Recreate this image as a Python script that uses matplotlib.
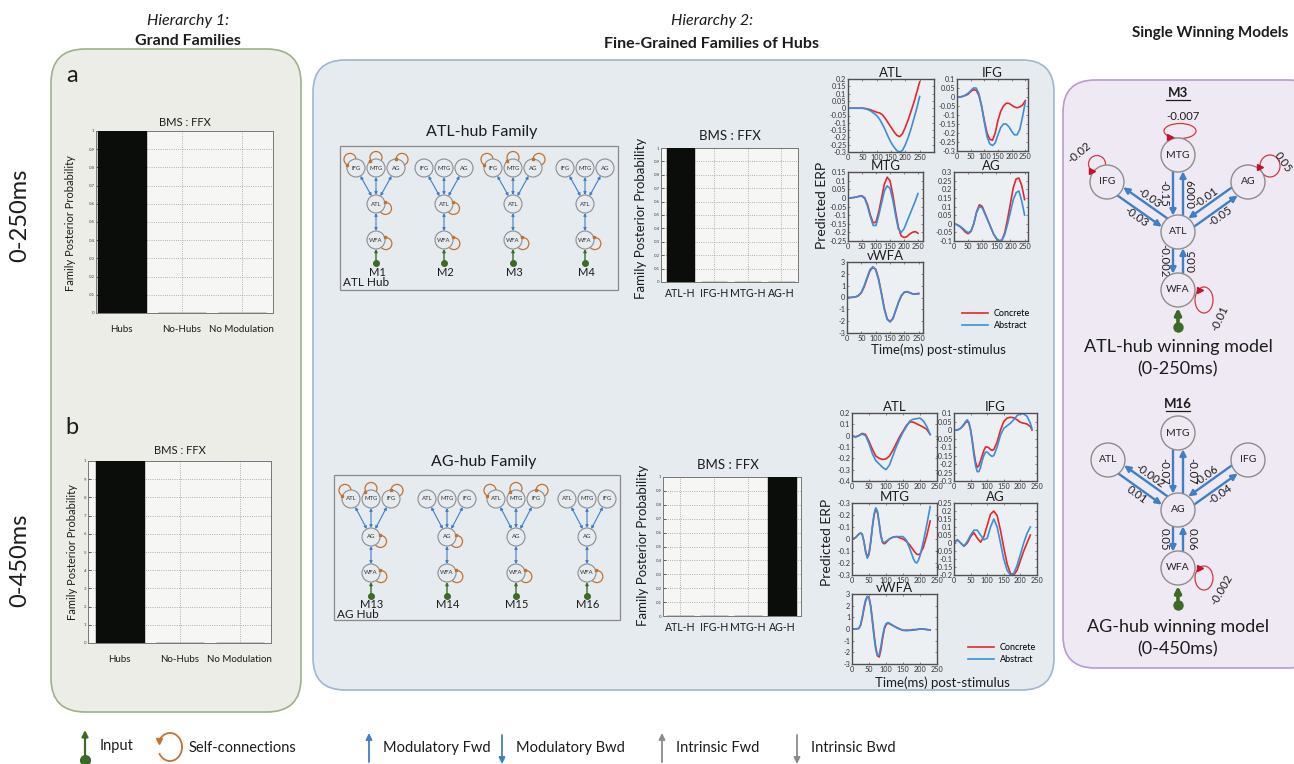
import numpy as np
import matplotlib.pyplot as plt
from matplotlib.patches import FancyBboxPatch, Circle, Ellipse, Arc, Rectangle

plt.rcParams['font.family'] = ['Lato', 'DejaVu Sans']

# ---------------- data ----------------
grand_families = ['Hubs', 'No-Hubs', 'No Modulation']
grand_post_250 = [1.0, 0.0, 0.0]
grand_post_450 = [1.0, 0.0, 0.0]

hub_families = ['ATL-H', 'IFG-H', 'MTG-H', 'AG-H']
hub_post_250 = [1.0, 0.0, 0.0, 0.0]
hub_post_450 = [0.0, 0.0, 0.0, 1.0]

atl_models = ['M1', 'M2', 'M3', 'M4']
atl_loops = [['IFG', 'MTG', 'AG', 'ATL', 'WFA'], ['ATL', 'WFA'], ['IFG', 'MTG', 'AG', 'WFA'], ['WFA']]
ag_models = ['M13', 'M14', 'M15', 'M16']
ag_loops = [['ATL', 'MTG', 'IFG', 'AG', 'WFA'], ['AG', 'WFA'], ['ATL', 'MTG', 'IFG', 'WFA'], ['WFA']]

# winning models: hub->region (out), region->hub (in), self connections
m3_out = {'IFG': -0.03, 'MTG': 0.009, 'AG': -0.05, 'WFA': -0.002}
m3_in = {'IFG': -0.03, 'MTG': -0.15, 'AG': -0.01, 'WFA': 0.05}
m3_self = {'MTG': -0.007, 'IFG': -0.02, 'AG': 0.05, 'WFA': -0.01}
m16_out = {'ATL': -0.002, 'MTG': -0.07, 'IFG': -0.04, 'WFA': 0.05}
m16_in = {'ATL': 0.01, 'MTG': -0.07, 'IFG': -0.06, 'WFA': 0.06}
m16_self = {'WFA': -0.002}

# predicted ERPs, 0-250 ms window
t_250 = [0, 10, 20, 30, 40, 50, 60, 70, 80, 90, 100, 110, 120, 130, 140, 150, 160, 170, 180, 190, 200, 210, 220, 230, 240, 250]
atl_250_con = [0, 0, 0, 0, 0, 0, -0.002, -0.006, -0.012, -0.02, -0.028, -0.032, -0.045, -0.07, -0.1, -0.13, -0.16, -0.185, -0.195, -0.175, -0.13, -0.08, -0.02, 0.04, 0.11, 0.18]
atl_250_abs = [0, 0, 0, 0, 0, 0, -0.003, -0.01, -0.02, -0.035, -0.05, -0.075, -0.11, -0.15, -0.195, -0.235, -0.265, -0.29, -0.3, -0.29, -0.25, -0.2, -0.14, -0.07, 0.0, 0.08]
ifg_250_con = [0, 0, 0.003, 0.008, 0.015, 0.03, 0.04, 0.038, 0.01, -0.05, -0.13, -0.2, -0.235, -0.24, -0.2, -0.13, -0.08, -0.05, -0.035, -0.035, -0.045, -0.055, -0.06, -0.055, -0.045, -0.02]
ifg_250_abs = [0, 0, 0.003, 0.01, 0.02, 0.035, 0.05, 0.05, 0.02, -0.05, -0.14, -0.22, -0.26, -0.27, -0.255, -0.21, -0.17, -0.15, -0.15, -0.165, -0.19, -0.21, -0.21, -0.18, -0.11, -0.03]
mtg_250_con = [0, 0, 0.002, 0.005, 0.01, 0.012, 0.0, -0.04, -0.1, -0.145, -0.14, -0.08, 0.0, 0.08, 0.12, 0.1, 0.02, -0.08, -0.17, -0.22, -0.23, -0.225, -0.21, -0.2, -0.195, -0.205]
mtg_250_abs = [0, 0, 0.002, 0.005, 0.008, 0.01, -0.005, -0.05, -0.11, -0.16, -0.16, -0.1, -0.03, 0.04, 0.07, 0.055, -0.01, -0.1, -0.18, -0.2, -0.18, -0.14, -0.1, -0.06, -0.02, 0.025]
ag_250_con = [0, -0.005, -0.015, -0.03, -0.048, -0.058, -0.045, 0.0, 0.07, 0.11, 0.1, 0.06, 0.02, -0.02, -0.06, -0.085, -0.1, -0.095, -0.05, 0.03, 0.12, 0.21, 0.26, 0.265, 0.22, 0.14]
ag_250_abs = [0, -0.005, -0.013, -0.025, -0.04, -0.052, -0.042, 0.0, 0.065, 0.1, 0.092, 0.055, 0.018, -0.02, -0.058, -0.085, -0.098, -0.095, -0.06, 0.0, 0.07, 0.14, 0.18, 0.19, 0.13, 0.05]
wfa_250_con = [0, 0, 0.02, 0.05, 0.15, 0.4, 0.9, 1.6, 2.25, 2.55, 2.4, 1.6, 0.4, -0.9, -1.8, -2.05, -1.8, -1.1, -0.4, 0.15, 0.45, 0.5, 0.4, 0.3, 0.3, 0.35]
wfa_250_abs = [0, 0, 0.02, 0.06, 0.18, 0.45, 1.0, 1.7, 2.35, 2.6, 2.35, 1.5, 0.3, -1.0, -1.85, -2.05, -1.75, -1.05, -0.35, 0.2, 0.45, 0.48, 0.38, 0.3, 0.28, 0.3]

# predicted ERPs, 0-450 ms window (plotted to 250 ms)
t_450 = [0, 10, 20, 30, 40, 50, 60, 70, 80, 90, 100, 110, 120, 130, 140, 150, 160, 170, 180, 190, 200, 210, 220, 230]
atl_450_con = [0, -0.01, 0.0, 0.02, 0.01, -0.05, -0.12, -0.18, -0.2, -0.21, -0.205, -0.18, -0.13, -0.07, -0.01, 0.04, 0.09, 0.12, 0.12, 0.105, 0.09, 0.075, 0.055, 0.01]
atl_450_abs = [0, -0.015, 0.0, 0.015, 0.0, -0.07, -0.16, -0.22, -0.25, -0.28, -0.3, -0.26, -0.18, -0.1, -0.03, 0.03, 0.08, 0.13, 0.145, 0.15, 0.155, 0.13, 0.08, 0.01]
t_ifg_450 = [0, 10, 20, 30, 35, 40, 45, 50, 55, 60, 65, 70, 75, 80, 85, 90, 95, 100, 105, 110, 115, 120, 130, 140, 150, 160, 170, 180, 190, 200, 210, 220, 230, 235]
ifg_450_con = [0, 0.0, 0.01, 0.03, 0.045, 0.05, 0.04, 0.0, -0.06, -0.13, -0.19, -0.22, -0.21, -0.18, -0.15, -0.12, -0.1, -0.1, -0.105, -0.115, -0.12, -0.115, -0.07, 0.0, 0.05, 0.07, 0.075, 0.072, 0.06, 0.045, 0.04, 0.035, 0.02, 0.0]
ifg_450_abs = [0, 0.0, 0.01, 0.035, 0.05, 0.06, 0.045, 0.0, -0.07, -0.15, -0.21, -0.245, -0.245, -0.22, -0.18, -0.15, -0.13, -0.13, -0.14, -0.15, -0.155, -0.15, -0.1, -0.03, 0.01, 0.025, 0.04, 0.06, 0.085, 0.095, 0.095, 0.08, 0.04, 0.005]
t_mtg_450 = [0, 10, 20, 25, 30, 35, 40, 45, 50, 55, 60, 65, 70, 75, 80, 85, 90, 95, 100, 110, 120, 130, 140, 150, 160, 170, 180, 185, 190, 195, 200, 210, 220, 230]
mtg_450_con = [0, 0.01, 0.04, 0.05, 0.04, -0.02, -0.1, -0.15, -0.12, -0.02, 0.1, 0.2, 0.25, 0.22, 0.13, 0.03, -0.03, -0.04, -0.03, 0.0, 0.015, 0.02, 0.01, 0.0, -0.02, -0.05, -0.09, -0.11, -0.125, -0.13, -0.125, -0.07, 0.03, 0.15]
mtg_450_abs = [0, 0.01, 0.04, 0.05, 0.04, -0.02, -0.11, -0.16, -0.13, -0.03, 0.1, 0.21, 0.26, 0.23, 0.13, 0.02, -0.02, -0.03, -0.02, 0.0, 0.015, 0.02, 0.02, 0.02, -0.01, -0.08, -0.16, -0.19, -0.2, -0.18, -0.14, -0.02, 0.12, 0.27]
ag_450_con = [0, 0.02, 0.0, -0.02, 0.0, 0.04, 0.065, 0.03, 0.005, 0.04, 0.11, 0.18, 0.2, 0.17, 0.08, -0.03, -0.13, -0.19, -0.2, -0.17, -0.11, -0.05, 0.0, 0.05]
ag_450_abs = [0, 0.02, 0.0, -0.02, 0.01, 0.05, 0.08, 0.08, 0.05, 0.02, 0.03, 0.1, 0.15, 0.1, 0.0, -0.1, -0.17, -0.2, -0.19, -0.14, -0.07, 0.0, 0.06, 0.1]
t_wfa_450 = [0, 10, 20, 25, 30, 35, 40, 45, 50, 55, 60, 65, 70, 75, 80, 85, 90, 95, 100, 105, 110, 120, 130, 140, 150, 160, 170, 180, 190, 200, 210, 220, 230]
wfa_450_con = [0, 0.0, 0.05, 0.3, 0.9, 1.7, 2.4, 2.75, 2.7, 2.0, 0.8, -0.5, -1.6, -2.3, -2.4, -1.8, -0.8, 0.0, 0.35, 0.5, 0.45, 0.3, 0.15, 0.0, -0.1, -0.1, -0.1, -0.05, -0.05, 0.0, 0.0, -0.05, -0.08]
wfa_450_abs = [0, 0.0, 0.05, 0.35, 1.0, 1.85, 2.5, 2.8, 2.65, 1.9, 0.6, -0.7, -1.8, -2.3, -2.2, -1.5, -0.6, 0.1, 0.45, 0.55, 0.5, 0.3, 0.12, 0.0, -0.12, -0.15, -0.12, -0.1, -0.05, 0.02, 0.0, -0.05, -0.08]

# ---------------- styling ----------------
W, H = 1294, 764
TXT = '#1c1c1c'
RED = '#e8262c'
ERP_BLUE = '#3a8fd8'
ARROW_BLUE = '#3f7fc6'
ORANGE = '#c4722f'
GREEN = '#3d6a26'
LOOP_RED = '#d43a3f'
GREEN_BG, BLUE_BG, PURPLE_BG = '#ebede6', '#e6ebf0', '#efe9f3'

fig = plt.figure(figsize=(W / 100, H / 100), dpi=100)
canvas = fig.add_axes([0, 0, 1, 1])
canvas.set_xlim(0, W)
canvas.set_ylim(H, 0)
canvas.axis('off')


def add_ax(x0, y0, x1, y1):
    return fig.add_axes([x0 / W, 1 - y1 / H, (x1 - x0) / W, (y1 - y0) / H])


def panel(x0, y0, x1, y1, fc, ec, r):
    canvas.add_patch(FancyBboxPatch((x0, y0), x1 - x0, y1 - y0,
                                    boxstyle=f'round,pad=0,rounding_size={r}',
                                    fc=fc, ec=ec, lw=1.2, zorder=0))


def arrow(p, q, color, lw, style, ms, z=4):
    canvas.annotate('', xy=tuple(q), xytext=tuple(p),
                    arrowprops=dict(arrowstyle=style, color=color, lw=lw, mutation_scale=ms,
                                    shrinkA=0, shrinkB=0), zorder=z)


def ends(a, b, ra, rb, off=0.0):
    a = np.asarray(a, float)
    b = np.asarray(b, float)
    u = (b - a) / np.linalg.norm(b - a)
    n = np.array([-u[1], u[0]])
    sa = np.sqrt(max(ra ** 2 - off ** 2, 0))
    sb = np.sqrt(max(rb ** 2 - off ** 2, 0))
    return a + u * sa + n * off, b - u * sb + n * off, u, n


# ---------------- panels and headings ----------------
panel(51, 49, 301, 712, GREEN_BG, '#9fb08c', 34)
panel(313, 60, 1054, 690, BLUE_BG, '#9db7d1', 32)
panel(1063, 80, 1320, 668, PURPLE_BG, '#b99bd0', 32)

canvas.text(188, 21, 'Hierarchy 1:', ha='center', va='center', fontsize=11.5, style='italic', color=TXT)
canvas.text(188, 41, 'Grand Families', ha='center', va='center', fontsize=11.5, weight='bold', color=TXT)
canvas.text(712, 21, 'Hierarchy 2:', ha='center', va='center', fontsize=11.5, style='italic', color=TXT)
canvas.text(712, 44, 'Fine-Grained Families of Hubs', ha='center', va='center', fontsize=11.5, weight='bold', color=TXT)
canvas.text(1210, 33, 'Single Winning Models', ha='center', va='center', fontsize=11, weight='bold', color=TXT)

canvas.text(20, 215, '0-250ms', ha='center', va='center', rotation=90, fontsize=17, color=TXT)
canvas.text(20, 560, '0-450ms', ha='center', va='center', rotation=90, fontsize=17, color=TXT)
canvas.text(72, 76, 'a', ha='center', va='center', fontsize=17, color=TXT)
canvas.text(72, 428, 'b', ha='center', va='center', fontsize=17, color=TXT)


# ---------------- BMS bar charts ----------------
def bms_chart(box, cats, vals, xlim, ytick_labels, cat_size, cat_pad, title_xy, title_size,
              ylabel_xy, ylabel_size):
    ax = add_ax(*box)
    x = np.arange(1, len(cats) + 1)
    ax.bar(x, vals, width=0.8, color='#0b0d0b', edgecolor='#0b0d0b', zorder=3)
    ax.set_xlim(*xlim)
    ax.set_ylim(0, 1)
    ax.set_xticks(x)
    ax.set_xticklabels(cats, fontsize=cat_size, color=TXT)
    ax.set_yticks(np.linspace(0, 1, 11))
    ax.set_yticklabels(ytick_labels, fontsize=3.2, color='#444')
    ax.grid(True, ls=':', color='#9a9a9a', lw=0.6)
    ax.set_facecolor('#f6f6f4')
    ax.tick_params(axis='x', length=0, pad=cat_pad)
    ax.tick_params(axis='y', length=2, width=0.4, direction='in', pad=1)
    for s in ax.spines.values():
        s.set_color('#777')
        s.set_linewidth(0.7)
    canvas.text(*title_xy, 'BMS : FFX', ha='center', va='center', fontsize=title_size, color=TXT)
    canvas.text(*ylabel_xy, 'Family Posterior Probability', ha='center', va='center',
                rotation=90, fontsize=ylabel_size, color=TXT)
    return ax


decimal_ticks = ['0'] + [f'0.{k}' for k in range(1, 10)] + ['1']
digit_ticks = ['0'] + [str(k) for k in range(1, 10)] + ['1']

bms_chart((96, 131, 273, 313), grand_families, grand_post_250, (0.57, 3.52), decimal_ticks,
          7, 9, (185, 122), 8, (70, 223), 8)
bms_chart((88, 461, 271, 643), grand_families, grand_post_450, (0.47, 3.52), digit_ticks,
          7, 9, (180, 450), 8, (72, 552), 8)
bms_chart((661, 148, 798, 282), hub_families, hub_post_250, (0.42, 4.5), decimal_ticks,
          7.6, 4, (730, 136), 9.5, (641, 218), 9.5)
bms_chart((663, 477, 801, 616), hub_families, hub_post_450, (0.5, 4.56), decimal_ticks,
          7.6, 4, (728, 465), 9.5, (643, 545), 9.5)


# ---------------- family model sketches ----------------
def small_model(cx, ys, top_names, hub, loops, label):
    y_top, y_hub, y_wfa, y_dot, y_lab = ys
    r = 9
    pos = {top_names[0]: (cx - 20, y_top), top_names[1]: (cx, y_top),
           top_names[2]: (cx + 20, y_top), hub: (cx, y_hub), 'WFA': (cx, y_wfa)}
    for a, b in [(nm, hub) for nm in top_names] + [(hub, 'WFA')]:
        p, q, _, _ = ends(pos[a], pos[b], r, r)
        arrow(p, q, ARROW_BLUE, 0.8, '<|-|>', 4)
    loop_dir = {top_names[0]: 125, top_names[1]: 90, top_names[2]: 55, hub: -25, 'WFA': -20}
    for nm in loops:
        ang = np.radians(loop_dir[nm])
        d = np.array([np.cos(ang), -np.sin(ang)])
        c = np.array(pos[nm]) + d * (r + 1.5)
        canvas.add_patch(Circle(c, 6, fc='none', ec=ORANGE, lw=0.9, zorder=3))
        tip_ang = ang + np.radians(38)
        tip = np.array(pos[nm]) + np.array([np.cos(tip_ang), -np.sin(tip_ang)]) * (r + 0.5)
        canvas.plot(*tip, marker='s', ms=2, color=ORANGE, zorder=6)
    for nm, (x, y) in pos.items():
        canvas.add_patch(Circle((x, y), r, fc=BLUE_BG, ec='#8d8d8d', lw=0.8, zorder=5))
        canvas.text(x, y, nm, ha='center', va='center', fontsize=4.3, color='#333', zorder=7)
    arrow((cx, y_dot), (cx, y_wfa + r), GREEN, 1.0, '-|>', 4)
    canvas.plot(cx, y_dot, 'o', ms=4, color=GREEN, zorder=6)
    canvas.text(cx + 1, y_lab, label, ha='center', va='center', fontsize=8, color=TXT)


canvas.text(482, 132, 'ATL-hub Family', ha='center', va='center', fontsize=11.5, color=TXT)
canvas.add_patch(Rectangle((340, 146), 278, 144, fc='none', ec='#8a8a8a', lw=0.9, zorder=2))
canvas.text(343, 283, 'ATL Hub', ha='left', va='center', fontsize=8.5, color=TXT)
for cx, lab, lp in zip([376, 444, 513, 585], atl_models, atl_loops):
    small_model(cx, (168, 204, 240, 263, 273), ['IFG', 'MTG', 'AG'], 'ATL', lp, lab)

canvas.text(484, 462, 'AG-hub Family', ha='center', va='center', fontsize=11.5, color=TXT)
canvas.add_patch(Rectangle((334, 475), 286, 145, fc='none', ec='#8a8a8a', lw=0.9, zorder=2))
canvas.text(337, 614, 'AG Hub', ha='left', va='center', fontsize=8.5, color=TXT)
for cx, lab, lp in zip([371, 447, 516, 587], ag_models, ag_loops):
    small_model(cx, (499, 537, 573, 596, 605), ['ATL', 'MTG', 'IFG'], 'AG', lp, lab)


# ---------------- predicted ERP panels ----------------
def fmt(v):
    s = f'{v:g}'
    return '0' if s == '-0' else s


def erp(box, title, t, con, abs_, ylim, ystep, xlim, ylabels=None):
    ax = add_ax(*box)
    l1, = ax.plot(t, con, color=RED, lw=1.2)
    l2, = ax.plot(t, abs_, color=ERP_BLUE, lw=1.2)
    ax.set_xlim(*xlim)
    ax.set_ylim(*ylim)
    ax.set_xticks([0, 50, 100, 150, 200, 250])
    yt = np.round(np.arange(ylim[0], ylim[1] + ystep / 2, ystep), 3)
    ax.set_yticks(yt)
    ax.set_yticklabels(ylabels if ylabels else [fmt(v) for v in yt])
    ax.tick_params(direction='in', length=1.5, width=0.4, labelsize=5.2, pad=1.2,
                   top=True, right=True, colors='#333')
    ax.set_facecolor('#edf0f3')
    for s in ax.spines.values():
        s.set_color('#505050')
        s.set_linewidth(1.0)
    ax.set_title(title, fontsize=9.5, pad=1.5, color=TXT)
    return ax, l1, l2


erp((848, 79, 934, 152), 'ATL', t_250, atl_250_con, atl_250_abs, (-0.3, 0.2), 0.05, (0, 300))
erp((957, 79, 1028, 151), 'IFG', t_250, ifg_250_con, ifg_250_abs, (-0.3, 0.1), 0.05, (0, 260))
erp((848, 172, 923, 241), 'MTG', t_250, mtg_250_con, mtg_250_abs, (-0.25, 0.15), 0.05, (0, 268))
erp((954, 172, 1028, 241), 'AG', t_250, ag_250_con, ag_250_abs, (-0.1, 0.3), 0.05, (0, 262))
ax_w, h1, h2 = erp((847, 262, 923, 333), 'vWFA', t_250, wfa_250_con, wfa_250_abs, (-3, 3), 1, (0, 265))
ax_w.legend([h1, h2], ['Concrete', 'Abstract'], loc='upper left',
            bbox_to_anchor=(962 / W, 1 - 309 / H), bbox_transform=fig.transFigure,
            frameon=False, fontsize=6.5, handlelength=2.9, handletextpad=0.6,
            labelspacing=0.35, borderaxespad=0, borderpad=0)
canvas.text(822, 205, 'Predicted ERP', ha='center', va='center', rotation=90, fontsize=10, color=TXT)
canvas.text(938, 350, 'Time(ms) post-stimulus', ha='center', va='center', fontsize=9.5, color=TXT)

mtg_odd = ['-0.3', '-0.2', '-0.1', '0', '-0.1', '-0.2', '-0.3']
erp((852, 413, 937, 481), 'ATL', t_450, atl_450_con, atl_450_abs, (-0.4, 0.2), 0.1, (0, 250))
erp((954, 413, 1037, 481), 'IFG', t_ifg_450, ifg_450_con, ifg_450_abs, (-0.3, 0.1), 0.05, (0, 250))
erp((852, 503, 937, 575), 'MTG', t_mtg_450, mtg_450_con, mtg_450_abs, (-0.3, 0.3), 0.1, (0, 250), mtg_odd)
erp((954, 503, 1037, 575), 'AG', t_450, ag_450_con, ag_450_abs, (-0.2, 0.25), 0.05, (0, 250))
ax_w, h1, h2 = erp((852, 594, 937, 664), 'vWFA', t_wfa_450, wfa_450_con, wfa_450_abs, (-3, 3), 1, (0, 250))
ax_w.legend([h1, h2], ['Concrete', 'Abstract'], loc='upper left',
            bbox_to_anchor=(968 / W, 1 - 643 / H), bbox_transform=fig.transFigure,
            frameon=False, fontsize=6.5, handlelength=2.9, handletextpad=0.6,
            labelspacing=0.35, borderaxespad=0, borderpad=0)
canvas.text(827, 542, 'Predicted ERP', ha='center', va='center', rotation=90, fontsize=10, color=TXT)
canvas.text(942, 683, 'Time(ms) post-stimulus', ha='center', va='center', fontsize=9.5, color=TXT)


# ---------------- winning models ----------------
def winning_model(name, name_y, pos, hub, out_vals, in_vals, self_vals, loop_geom, upright,
                  caption, cap_y):
    r = 17
    for nm in out_vals:
        p, q, u, n = ends(pos[hub], pos[nm], r, r, off=5)
        arrow(p, q, ARROW_BLUE, 1.7, '-|>', 9)
        p2, q2, _, _ = ends(pos[nm], pos[hub], r, r, off=5)
        arrow(p2, q2, ARROW_BLUE, 1.7, '-|>', 9)
        mid = (np.asarray(pos[hub], float) + np.asarray(pos[nm], float)) / 2
        ang = np.degrees(np.arctan2(-u[1], u[0]))
        if ang > 90:
            ang -= 180
        elif ang <= -90:
            ang += 180
        vertical = abs(abs(ang) - 90) < 1
        for sign, val, key in [(1, out_vals[nm], (nm, 'out')), (-1, in_vals[nm], (nm, 'in'))]:
            rot = (90 if key in upright else -90) if vertical else ang
            xy = mid + n * (14 if vertical else 11.5) * sign
            canvas.text(*xy, fmt(val), ha='center', va='center', rotation=rot,
                        rotation_mode='anchor', fontsize=8.2, color=TXT)
    for nm, val in self_vals.items():
        (dx, dy), (ew, eh), (ax_, ay_), (lx, ly), lrot = loop_geom[nm]
        x, y = pos[nm]
        canvas.add_patch(Ellipse((x + dx, y + dy), ew, eh, fc='none', ec=LOOP_RED, lw=0.9, zorder=3))
        canvas.plot(x + ax_, y + ay_, marker='>', ms=4, color='#c8102e', zorder=6)
        canvas.text(x + lx, y + ly, fmt(val), ha='center', va='center', rotation=lrot,
                    fontsize=8.2, color=TXT)
    for nm, (x, y) in pos.items():
        canvas.add_patch(Circle((x, y), r, fc=PURPLE_BG, ec='#8d8d8d', lw=1.0, zorder=5))
        canvas.text(x, y, nm, ha='center', va='center', fontsize=7.5, color='#222', zorder=7)
    wx, wy = pos['WFA']
    arrow((wx, wy + 37), (wx, wy + r + 1), GREEN, 2.6, '-|>', 9)
    canvas.plot(wx, wy + 37, 'o', ms=6.5, color=GREEN, zorder=6)
    canvas.text(1178, name_y, name, ha='center', va='center', fontsize=9.5, weight='bold', color=TXT)
    canvas.plot([1166, 1190], [name_y + 7, name_y + 7], color=TXT, lw=0.9)
    canvas.text(1178, cap_y, caption[0], ha='center', va='center', fontsize=13, color=TXT)
    canvas.text(1178, cap_y + 22, caption[1], ha='center', va='center', fontsize=13, color=TXT)


m3_pos = {'MTG': (1178, 155), 'IFG': (1107, 182), 'AG': (1248, 182), 'ATL': (1178, 232), 'WFA': (1178, 290)}
m3_loops = {'MTG': ((2, -24), (32, 15), (-8, -18), (5, -38), 0),
            'IFG': ((-10, -18), (17, 17), (-15, -11), (-28, -29), 40),
            'AG': ((22, -16), (20, 22), (12, -15), (35, -20), -55),
            'WFA': ((26, 10), (18, 26), (22, 0), (42, 28), 65)}
winning_model('M3', 93, m3_pos, 'ATL', m3_out, m3_in, m3_self, m3_loops, {('MTG', 'out'), ('WFA', 'in')},
              ('ATL-hub winning model', '(0-250ms)'), 347)

m16_pos = {'MTG': (1178, 433), 'ATL': (1108, 460), 'IFG': (1248, 460), 'AG': (1178, 510), 'WFA': (1178, 568)}
m16_loops = {'WFA': ((26, 10), (18, 24), (22, 0), (44, 22), 60)}
winning_model('M16', 404, m16_pos, 'AG', m16_out, m16_in, m16_self, m16_loops, set(),
              ('AG-hub winning model', '(0-450ms)'), 627)


# ---------------- connection key ----------------
KEY_FONT = dict(fontsize=10.5, color=TXT, ha='left', va='center')
arrow((85, 760), (85, 730), GREEN, 1.6, '-|>', 9)
canvas.plot(85, 760, 'o', ms=7, color=GREEN, zorder=6)
canvas.text(100, 746, 'Input', **KEY_FONT)
canvas.add_patch(Arc((170, 747), 24, 28, theta1=-160, theta2=150, color=ORANGE, lw=1.3))
canvas.plot(159, 741, marker='v', ms=5, color=ORANGE)
canvas.text(189, 748, 'Self-connections', **KEY_FONT)
key_items = [(369, 'up', ARROW_BLUE, 'Modulatory Fwd'), (502, 'down', ARROW_BLUE, 'Modulatory Bwd'),
             (662, 'up', '#8a8a8a', 'Intrinsic Fwd'), (797, 'down', '#8a8a8a', 'Intrinsic Bwd')]
for x, way, col, lab in key_items:
    if way == 'up':
        arrow((x, 762), (x, 733), col, 1.3, '-|>', 9)
    else:
        arrow((x, 735), (x, 764), col, 1.3, '-|>', 9)
    canvas.text(x + 14, 748, lab, **KEY_FONT)

fig.savefig('out.png', dpi=100)
